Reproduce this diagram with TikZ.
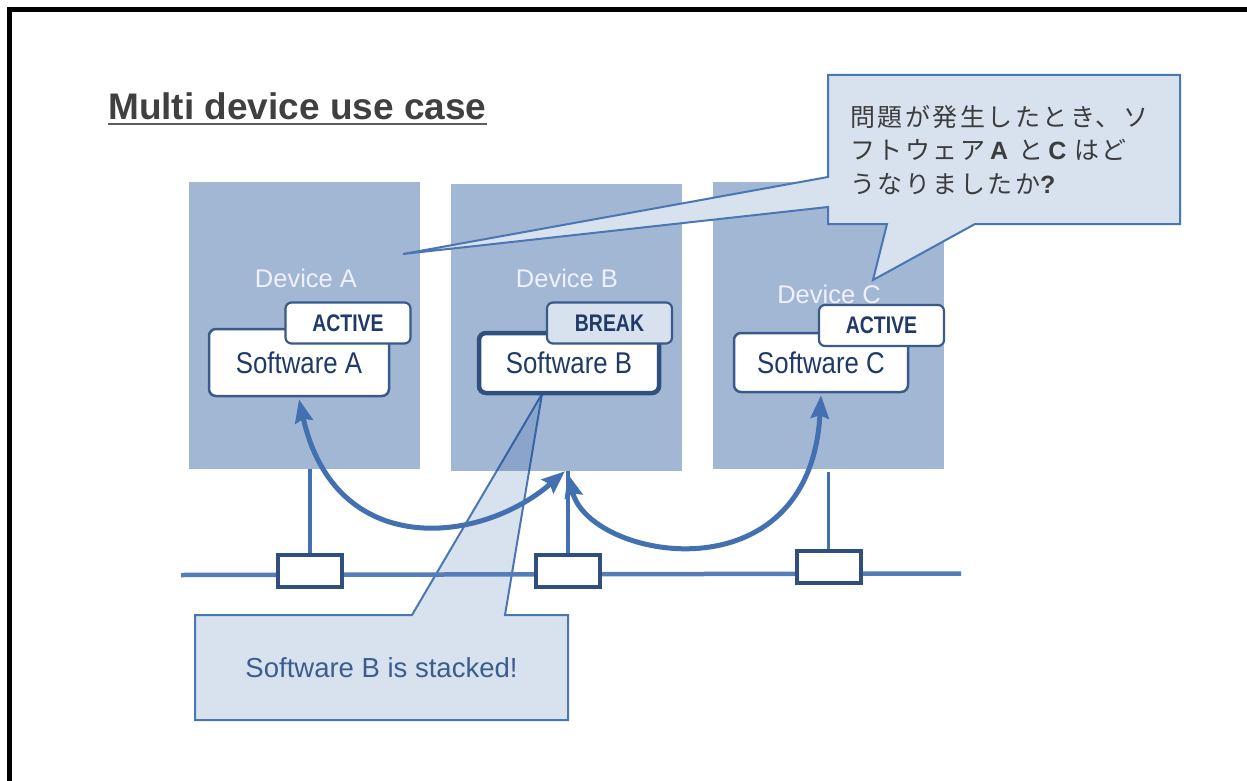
\documentclass[tikz,border=0pt]{standalone}
\usepackage{fontspec}
\setmainfont{Liberation Sans}
\newfontfamily\narrowfont[FakeStretch=0.86]{Liberation Sans}
\newfontfamily\tagfont[FakeStretch=0.81]{Liberation Sans}
\newfontfamily\jpfont[LetterSpace=10]{Noto Sans CJK JP}
\newfontfamily\latinjp{Liberation Sans}
\usetikzlibrary{arrows.meta}
\definecolor{devdark}{RGB}{23,75,145}
\definecolor{calfill}{RGB}{216,226,239}
\definecolor{calline}{RGB}{74,118,180}
\definecolor{arrowc}{RGB}{66,112,176}
\definecolor{nboxc}{RGB}{47,79,127}
\definecolor{swtext}{RGB}{31,58,104}
\definecolor{swline}{RGB}{58,90,138}
\definecolor{titlegray}{RGB}{64,64,64}
\definecolor{stktext}{RGB}{59,92,142}
\definecolor{jptext}{RGB}{60,60,60}
\newcommand{\jplat}[1]{{\latinjp\bfseries\fontsize{25}{28}\selectfont #1}}
\begin{document}
\begin{tikzpicture}[x=1pt,y=-1pt,
  device/.style={rectangle, draw=none, fill=devdark, fill opacity=0.4, inner sep=0, minimum width=231pt, minimum height=287pt},
  devlabel/.style={anchor=base, inner sep=0, text=white!94!blue, font=\fontsize{25.5}{28}\selectfont},
  swbox/.style={rectangle, rounded corners=7pt, draw=swline, line width=2.5pt, fill=white, inner sep=0, text=swtext, font=\narrowfont\fontsize{30}{32}\selectfont},
  tagbox/.style={rectangle, rounded corners=6pt, draw=swline, line width=2.2pt, fill=white, inner sep=0, minimum width=125pt, minimum height=41pt, text=swtext, font=\tagfont\bfseries\fontsize{24}{26}\selectfont},
  callout/.style={fill=calfill, draw=calline, line width=2pt, line join=miter},
  nbox/.style={rectangle, draw=nboxc, line width=4pt, fill=white, inner sep=0, minimum width=64pt, minimum height=32pt},
  stem/.style={draw=arrowc, line width=3.5pt},
  netline/.style={draw=arrowc!90!white, line width=4.5pt},
  bigarrow/.style={draw=arrowc, line width=5pt, {Stealth[length=23pt,width=18pt,inset=3pt]}-{Stealth[length=23pt,width=18pt,inset=3pt]}},
  jp/.style={anchor=base west, inner sep=0, text=jptext, font=\jpfont\fontsize{25}{28}\selectfont}
]
\useasboundingbox (0,0) rectangle (1247,781);
\fill[white] (0,0) rectangle (1247,781);
% frame
\draw[line width=5pt] (9,781) -- (9,10) -- (1247,10);

% title
\node[anchor=base west, inner sep=0, text=titlegray, font=\bfseries\fontsize{37}{40}\selectfont] (title) at (108,120) {Multi device use case};
\draw[line width=2pt, titlegray!85!white] ([yshift=-4.5pt]title.base west) -- ([yshift=-4.5pt]title.base east);

% bottom callout (behind devices)
\filldraw[callout] (195,615) -- (412,615) -- (542,394) -- (505,615) -- (568,615) -- (568,720) -- (195,720) -- cycle;
\node[inner sep=0, text=stktext, font=\fontsize{27.5}{30}\selectfont] (stk) at (381.5,667.5) {Software B is stacked!};

% devices
\node[device] (devA) at (304.5,325.5) {};
\node[device] (devB) at (566,327.5) {};
\node[device] (devC) at (828,325.5) {};
\node[devlabel] (labA) at (306,287) {Device A};
\node[devlabel] (labB) at (567,287) {Device B};
\node[devlabel] (labC) at (829,303) {Device C};

% software boxes
\node[swbox, minimum width=180pt, minimum height=67pt] (swA) at (299,362.5) {Software A};
\node[swbox, line width=4.5pt, draw=nboxc, minimum width=180pt, minimum height=60pt] (swB) at (569,363) {Software B};
\node[swbox, minimum width=174pt, minimum height=59pt] (swC) at (821,362.5) {Software C};
\node[tagbox] (tagA) at (348,323) {ACTIVE};
\node[tagbox, fill=calfill] (tagB) at (609.5,323) {BREAK};
\node[tagbox] (tagC) at (881.5,325.5) {ACTIVE};

% network
\coordinate (netL) at (181,575);
\coordinate (netR) at (961,573.5);
\draw[netline] (netL) -- (netR);
\node[nbox] (nb1) at (310,571) {};
\node[nbox] (nb2) at (568,571) {};
\node[nbox] (nb3) at (828.5,567) {};
\draw[stem] (nb1.north) -- (nb1.north |- devA.south);
\draw[stem] (nb2.north) -- (nb2.north |- devB.south);
\draw[stem] (nb3.north) -- ([yshift=-3pt]nb3.north |- devC.south);

% arrows
\draw[bigarrow] ([yshift=-2pt]swA.south) .. controls (335,560) and (480,545) .. ([xshift=-1pt]devB.south);
\draw[bigarrow] ([xshift=2pt,yshift=-3pt]devB.south) .. controls (590,560) and (810,600) .. ([yshift=-2pt]swC.south);

% top callout
\filldraw[callout] (828,75) -- (1180,75) -- (1180,224) -- (975,224) -- (873,280) -- (887,224) -- (828,224) -- (828,207) -- (403,254) -- (828,177) -- cycle;
\node[jp] (q1) at (850,127) {問題が発生したとき、ソ};
\node[jp] (q2) at (850,160) {フトウェア\hspace{5pt}\jplat{A}\hspace{10pt}と\hspace{5pt}\jplat{C}\hspace{8pt}はど};
\node[jp] (q3) at (850,193) {うなりましたか\jplat{?}};
\end{tikzpicture}
\end{document}
